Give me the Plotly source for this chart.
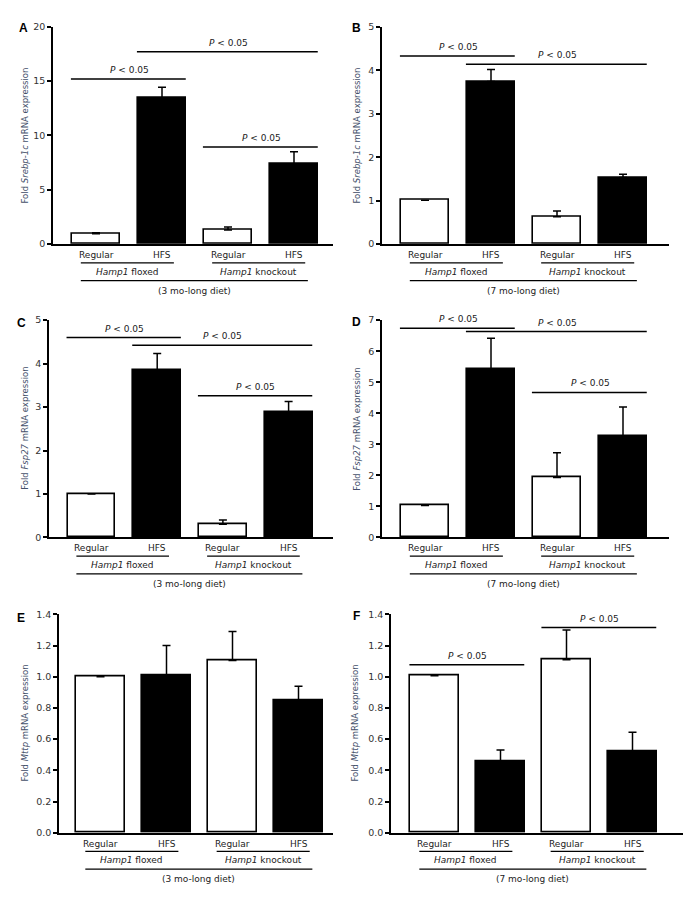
import plotly.graph_objects as go

# page body has an 8px default margin; the figure is sized to fit inside it
OFF = 8
W, H = 684, 884

# ---------------- data ----------------
conditions = ["Regular", "HFS", "Regular", "HFS"]
genotypes = ["<i>Hamp1</i> floxed", "<i>Hamp1</i> knockout"]
diets = ["(3 mo-long diet)", "(7 mo-long diet)"]
bar_colors = ["white", "black", "white", "black"]

srebp_3mo = [0.95, 13.45, 1.3, 7.4]
srebp_3mo_sem = [0.1, 1.0, 0.28, 1.1]
srebp_7mo = [1.01, 3.74, 0.63, 1.53]
srebp_7mo_sem = [0.0, 0.28, 0.13, 0.08]
fsp27_3mo = [1.0, 3.85, 0.30, 2.88]
fsp27_3mo_sem = [0.0, 0.38, 0.10, 0.25]
fsp27_7mo = [1.03, 5.42, 1.93, 3.27]
fsp27_7mo_sem = [0.0, 1.0, 0.8, 0.93]
mttp_3mo = [1.0, 1.01, 1.105, 0.85]
mttp_3mo_sem = [0.0, 0.19, 0.185, 0.09]
mttp_7mo = [1.007, 0.46, 1.11, 0.52]
mttp_7mo_sem = [0.0, 0.07, 0.19, 0.125]

# significance brackets: (first bar, last bar, height in data units)
sig_A = [(0, 1, 15.2), (1, 3, 17.7), (2, 3, 8.95)]
sig_B = [(0, 1, 4.33), (1, 3, 4.14)]
sig_C = [(0, 1, 4.6), (1, 3, 4.42), (2, 3, 3.26)]
sig_D = [(0, 1, 6.74), (1, 3, 6.63), (2, 3, 4.67)]
sig_E = []
sig_F = [(0, 1, 1.077), (2, 3, 1.316)]
sig_text = "<i>P</i> < 0.05"

# ---------------- layout config (page pixels) ----------------
panels = [
    dict(letter="A", vals=srebp_3mo, sem=srebp_3mo_sem, sig=sig_A, ymax=20, dtick=5, fmt="d",
         title="Fold <i>Srebp-1c</i> mRNA expression", diet=0,
         left=53, right=333, top=21, bottom=241, c0=96, sp=66, tx=25, lx=23, ly=22),
    dict(letter="B", vals=srebp_7mo, sem=srebp_7mo_sem, sig=sig_B, ymax=5, dtick=1, fmt="d",
         title="Fold <i>Srebp-1c</i> mRNA expression", diet=1,
         left=382, right=669, top=21, bottom=241, c0=425, sp=66, tx=357, lx=357, ly=22),
    dict(letter="C", vals=fsp27_3mo, sem=fsp27_3mo_sem, sig=sig_C, ymax=5, dtick=1, fmt="d",
         title="Fold <i>Fsp27</i> mRNA expression", diet=0,
         left=49, right=333, top=318, bottom=538, c0=91.5, sp=65.7, tx=25, lx=21, ly=321),
    dict(letter="D", vals=fsp27_7mo, sem=fsp27_7mo_sem, sig=sig_D, ymax=7, dtick=1, fmt="d",
         title="Fold <i>Fsp27</i> mRNA expression", diet=1,
         left=382, right=669, top=318, bottom=538, c0=425, sp=66, tx=357, lx=357, ly=320),
    dict(letter="E", vals=mttp_3mo, sem=mttp_3mo_sem, sig=sig_E, ymax=1.4, dtick=0.2, fmt=".1f",
         title="Fold <i>Mttp</i> mRNA expression", diet=0,
         left=59, right=333, top=616, bottom=837, c0=100.5, sp=66, tx=25, lx=21, ly=620),
    dict(letter="F", vals=mttp_7mo, sem=mttp_7mo_sem, sig=sig_F, ymax=1.4, dtick=0.2, fmt=".1f",
         title="Fold <i>Mttp</i> mRNA expression", diet=1,
         left=391, right=683, top=616, bottom=837, c0=434.5, sp=66, tx=355, lx=357, ly=618),
]

FONT = "DejaVu Sans"
fig = go.Figure()
shapes = []
annotations = []
layout_axes = {}

BAR_W = 0.73
PAD = 0.38


def xpx(px):
    return (px - OFF) / W


def ypx(py):
    return 1 - (py - OFF) / H


def xpaper(p, v):
    return xpx(p["c0"] + v * p["sp"])


for i, p in enumerate(panels):
    n = i + 1
    xa = "x" if n == 1 else f"x{n}"
    ya = "y" if n == 1 else f"y{n}"
    xkey = "xaxis" if n == 1 else f"xaxis{n}"
    ykey = "yaxis" if n == 1 else f"yaxis{n}"

    fig.add_trace(go.Bar(
        x=list(range(len(p["vals"]))), y=p["vals"], xaxis=xa, yaxis=ya,
        width=BAR_W,
        marker=dict(color=bar_colors, line=dict(color="black", width=1.6)),
        error_y=dict(type="data", symmetric=False, array=p["sem"],
                     arrayminus=[0] * len(p["sem"]), color="black",
                     thickness=1.5, width=4),
        showlegend=False, hoverinfo="skip",
    ))

    xr = [(p["left"] - p["c0"]) / p["sp"], (p["right"] - p["c0"]) / p["sp"]]
    layout_axes[xkey] = dict(
        domain=[xpx(p["left"]), xpx(p["right"])], range=xr, anchor=ya,
        showline=True, linecolor="black", linewidth=1.6, ticks="",
        showticklabels=False, showgrid=False, zeroline=False, fixedrange=True,
    )
    layout_axes[ykey] = dict(
        domain=[ypx(p["bottom"]), ypx(p["top"])], range=[0, p["ymax"]],
        anchor=xa, showline=True, linecolor="black", linewidth=1.6,
        ticks="outside", ticklen=4, tickwidth=1.5, tickcolor="black",
        dtick=p["dtick"], tick0=0, tickformat=p["fmt"],
        tickfont=dict(family=FONT, size=9.5, color="#333333"),
        showgrid=False, zeroline=False, fixedrange=True,
    )

    # significance brackets
    for (a, b, yv) in p["sig"]:
        shapes.append(dict(type="line", xref=xa, yref=ya, x0=a - PAD, x1=b + PAD - 0.02,
                           y0=yv, y1=yv, line=dict(color="black", width=1.5)))
        annotations.append(dict(xref=xa, yref=ya, x=(a + b) / 2, y=yv, text=sig_text,
                                showarrow=False, yanchor="bottom", yshift=2,
                                font=dict(family=FONT, size=9, color="#222222")))

    # category labels under the axis
    b0 = p["bottom"]
    for k, c in enumerate(conditions):
        annotations.append(dict(xref="paper", yref="paper", x=xpaper(p, k),
                                y=ypx(b0 + 11), text=c, showarrow=False,
                                xanchor="center", yanchor="middle",
                                font=dict(family=FONT, size=9, color="#222222")))
    for g, (g0, g1) in enumerate([(-0.23, 1.18), (1.76, 3.17)]):
        shapes.append(dict(type="line", xref="paper", yref="paper",
                           x0=xpaper(p, g0), x1=xpaper(p, g1),
                           y0=ypx(b0 + 19), y1=ypx(b0 + 19),
                           line=dict(color="black", width=1.3)))
        annotations.append(dict(xref="paper", yref="paper", x=xpaper(p, (g0 + g1) / 2),
                                y=ypx(b0 + 28), text=genotypes[g], showarrow=False,
                                xanchor="center", yanchor="middle",
                                font=dict(family=FONT, size=9, color="#222222")))
    shapes.append(dict(type="line", xref="paper", yref="paper",
                       x0=xpaper(p, -0.23), x1=xpaper(p, 3.21),
                       y0=ypx(b0 + 37), y1=ypx(b0 + 37),
                       line=dict(color="black", width=1.3)))
    annotations.append(dict(xref="paper", yref="paper", x=xpaper(p, 1.49),
                            y=ypx(b0 + 47), text=diets[p["diet"]], showarrow=False,
                            xanchor="center", yanchor="middle",
                            font=dict(family=FONT, size=9, color="#222222")))

    # y-axis title
    annotations.append(dict(xref="paper", yref="paper", x=xpx(p["tx"]),
                            y=ypx((p["top"] + p["bottom"]) / 2), text=p["title"],
                            textangle=-90, showarrow=False, xanchor="center",
                            yanchor="middle",
                            font=dict(family=FONT, size=8.5, color="#44506a")))
    # panel letter
    annotations.append(dict(xref="paper", yref="paper", x=xpx(p["lx"]), y=ypx(p["ly"]),
                            text=f"<b>{p['letter']}</b>", showarrow=False,
                            xanchor="center", yanchor="middle",
                            font=dict(family="Liberation Sans", size=12, color="black")))

fig.update_layout(
    width=W, height=H, autosize=False,
    margin=dict(l=0, r=0, t=0, b=0),
    paper_bgcolor="white", plot_bgcolor="white",
    bargap=0, shapes=shapes, annotations=annotations,
    **layout_axes,
)

fig.write_html("out.html")
